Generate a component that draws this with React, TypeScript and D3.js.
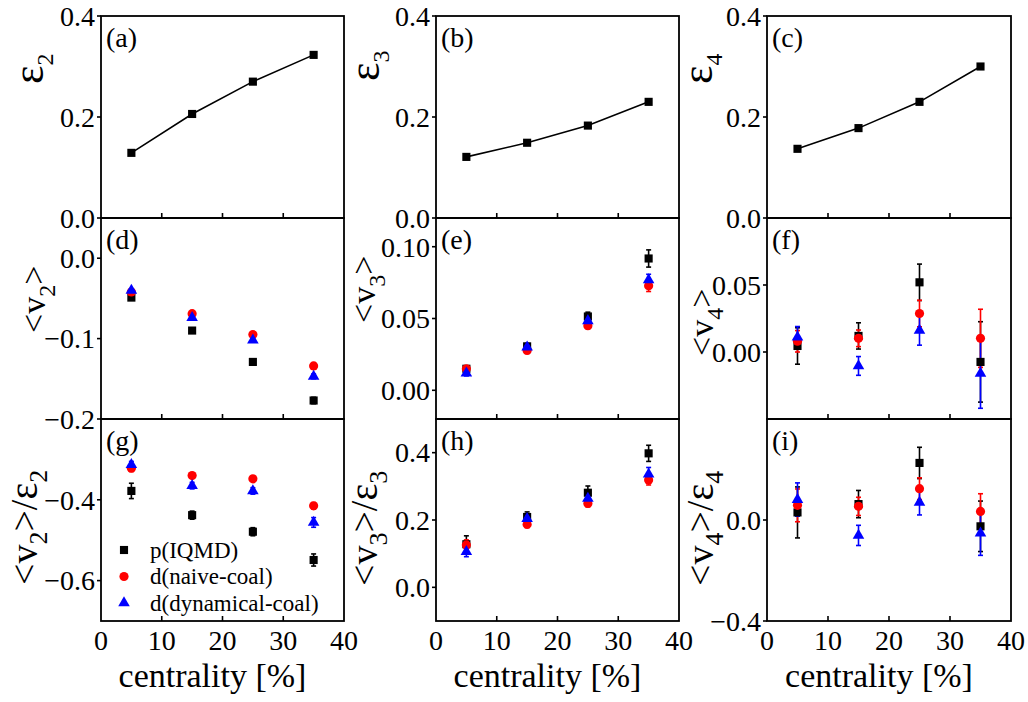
import React from 'react';
import * as d3 from 'd3';

const FONT = '"Liberation Serif", "Times New Roman", serif';

// data
const centrality = [5, 15, 25, 35];
const xTicks = [0, 10, 20, 30, 40];

const eps2 = [0.129, 0.206, 0.27, 0.323];
const eps3 = [0.121, 0.149, 0.183, 0.23];
const eps4 = [0.137, 0.178, 0.23, 0.3];

const seriesNames = ['p(IQMD)', 'd(naive-coal)', 'd(dynamical-coal)'];
const seriesColors = ['#000000', '#ff0000', '#0000ff'];
const seriesShapes = ['square', 'circle', 'triangle'];

// <v2>
const v2P = [-0.049, -0.09, -0.129, -0.177];
const v2PErr = [0.003, 0.003, 0.003, 0.004];
const v2Naive = [-0.042, -0.069, -0.095, -0.134];
const v2NaiveErr = [0.002, 0.002, 0.002, 0.003];
const v2Dyn = [-0.04, -0.074, -0.102, -0.147];
const v2DynErr = [0.002, 0.002, 0.002, 0.003];

// <v3>
const v3P = [0.015, 0.0306, 0.0514, 0.0918];
const v3PErr = [0.002, 0.002, 0.003, 0.006];
const v3Naive = [0.015, 0.0277, 0.045, 0.0728];
const v3NaiveErr = [0.002, 0.002, 0.002, 0.004];
const v3Dyn = [0.012, 0.03, 0.0484, 0.0768];
const v3DynErr = [0.002, 0.002, 0.003, 0.004];

// <v4>
const v4P = [0.0045, 0.012, 0.052, -0.0074];
const v4PErr = [0.0136, 0.0098, 0.0136, 0.03];
const v4Naive = [0.008, 0.0102, 0.0287, 0.0102];
const v4NaiveErr = [0.008, 0.0062, 0.0099, 0.0217];
const v4Dyn = [0.011, -0.0104, 0.0161, -0.016];
const v4DynErr = [0.008, 0.007, 0.011, 0.026];

// <v2>/eps2
const r2P = [-0.378, -0.438, -0.479, -0.549];
const r2PErr = [0.019, 0.01, 0.01, 0.015];
const r2Naive = [-0.322, -0.34, -0.348, -0.415];
const r2NaiveErr = [0.008, 0.006, 0.006, 0.008];
const r2Dyn = [-0.313, -0.365, -0.378, -0.456];
const r2DynErr = [0.008, 0.008, 0.008, 0.012];

// <v3>/eps3
const r3P = [0.128, 0.209, 0.281, 0.398];
const r3PErr = [0.025, 0.015, 0.02, 0.024];
const r3Naive = [0.126, 0.187, 0.249, 0.319];
const r3NaiveErr = [0.015, 0.01, 0.01, 0.015];
const r3Dyn = [0.106, 0.204, 0.264, 0.336];
const r3DynErr = [0.015, 0.012, 0.015, 0.02];

// <v4>/eps4
const r4P = [0.03, 0.063, 0.226, -0.025];
const r4PErr = [0.101, 0.054, 0.062, 0.1];
const r4Naive = [0.058, 0.054, 0.124, 0.034];
const r4NaiveErr = [0.065, 0.036, 0.043, 0.07];
const r4Dyn = [0.081, -0.061, 0.07, -0.052];
const r4DynErr = [0.066, 0.04, 0.05, 0.088];

const cols = [[101, 344], [436, 679], [767, 1011]];
const rows = [[16, 218], [218, 419], [419, 621]];

type Part = { t: string; sub?: boolean; size: number };

const epsLabel = (n: string): Part[] => [{ t: 'ε', size: 44 }, { t: n, sub: true, size: 24 }];
const vLabel = (n: string): Part[] => [
  { t: '<v', size: 34 }, { t: n, sub: true, size: 24 }, { t: '>', size: 34 },
];
const ratioLabel = (n: string): Part[] => [
  { t: '<v', size: 38 }, { t: n, sub: true, size: 26 }, { t: '>/', size: 38 },
  { t: 'ε', size: 40 }, { t: n, sub: true, size: 26 },
];

// lab = [baseline offset from panel left, y where the rotated text starts]
const panels = [
  { tag: '(a)', col: 0, row: 0, dom: [0, 0.4], ticks: [0, 0.2, 0.4], fmt: '.1f', line: eps2, label: epsLabel('2'), lab: [-58, 84] },
  { tag: '(b)', col: 1, row: 0, dom: [0, 0.4], ticks: [0, 0.2, 0.4], fmt: '.1f', line: eps3, label: epsLabel('3'), lab: [-57, 81] },
  { tag: '(c)', col: 2, row: 0, dom: [0, 0.4], ticks: [0, 0.2, 0.4], fmt: '.1f', line: eps4, label: epsLabel('4'), lab: [-55, 84] },
  { tag: '(d)', col: 0, row: 1, dom: [-0.2, 0.05], ticks: [-0.2, -0.1, 0], fmt: '.1f',
    series: [[v2P, v2PErr], [v2Naive, v2NaiveErr], [v2Dyn, v2DynErr]], label: vLabel('2'), lab: [-56, 333] },
  { tag: '(e)', col: 1, row: 1, dom: [-0.02, 0.12], ticks: [0, 0.05, 0.1], fmt: '.2f',
    series: [[v3P, v3PErr], [v3Naive, v3NaiveErr], [v3Dyn, v3DynErr]], label: vLabel('3'), lab: [-61, 323] },
  { tag: '(f)', col: 2, row: 1, dom: [-0.05, 0.1], ticks: [0, 0.05], fmt: '.2f',
    series: [[v4P, v4PErr], [v4Naive, v4NaiveErr], [v4Dyn, v4DynErr]], label: vLabel('4'), lab: [-54, 356] },
  { tag: '(g)', col: 0, row: 2, dom: [-0.7, -0.2], ticks: [-0.6, -0.4], fmt: '.1f', legend: true,
    series: [[r2P, r2PErr], [r2Naive, r2NaiveErr], [r2Dyn, r2DynErr]], label: ratioLabel('2'), lab: [-64, 585] },
  { tag: '(h)', col: 1, row: 2, dom: [-0.1, 0.5], ticks: [0, 0.2, 0.4], fmt: '.1f',
    series: [[r3P, r3PErr], [r3Naive, r3NaiveErr], [r3Dyn, r3DynErr]], label: ratioLabel('3'), lab: [-59, 586] },
  { tag: '(i)', col: 2, row: 2, dom: [-0.4, 0.4], ticks: [-0.4, 0], fmt: '.1f',
    series: [[r4P, r4PErr], [r4Naive, r4NaiveErr], [r4Dyn, r4DynErr]], label: ratioLabel('4'), lab: [-54, 586] },
];

const symbolPath = (shape: string) => {
  if (shape === 'square') return d3.symbol(d3.symbolSquare, 66)();
  if (shape === 'circle') return d3.symbol(d3.symbolCircle, 66)();
  return d3.symbol(d3.symbolTriangle, 58)();
};

const SUB_DROP = 10;

const RotLabel = ({ parts, x, y }: { parts: Part[]; x: number; y: number }) => {
  let shift = 0;
  return (
    <text transform={`translate(${x},${y}) rotate(-90)`} textAnchor="start" fontFamily={FONT} fontSize={34}>
      {parts.map((p, i) => {
        const target = p.sub ? SUB_DROP : 0;
        const dy = target - shift;
        shift = target;
        return (
          <tspan key={i} dy={dy} fontSize={p.size}>{p.t}</tspan>
        );
      })}
    </text>
  );
};

const Panel = ({ p }: { p: any }) => {
  const [x0, x1] = cols[p.col];
  const [y0, y1] = rows[p.row];
  const x = d3.scaleLinear().domain([0, 40]).range([x0, x1]);
  const y = d3.scaleLinear().domain(p.dom).range([y1, y0]);
  const fmt = d3.format(p.fmt);
  const line = d3.line<number>().x((_, i) => x(centrality[i])).y((d) => y(d));
  const showTickLabel = (t: number) => !(p.row === 2 && p.col === 0 && t === -0.2);
  return (
    <g>
      {p.line && (
        <g>
          <path d={line(p.line) ?? ''} fill="none" stroke="#000" strokeWidth={1.6} />
          {p.line.map((v: number, i: number) => (
            <path key={i} d={symbolPath('square') ?? ''} transform={`translate(${x(centrality[i])},${y(v)})`} fill="#000" />
          ))}
        </g>
      )}
      {p.series && (
        <g>
          {p.series.map(([vals, errs]: number[][], si: number) => (
            <g key={si} stroke={seriesColors[si]} strokeWidth={1.6}>
              {vals.map((v, i) => {
                const cx = x(centrality[i]);
                const ya = y(v + errs[i]);
                const yb = y(v - errs[i]);
                return (
                  <g key={i}>
                    <line x1={cx} x2={cx} y1={ya} y2={yb} />
                    <line x1={cx - 2.5} x2={cx + 2.5} y1={ya} y2={ya} />
                    <line x1={cx - 2.5} x2={cx + 2.5} y1={yb} y2={yb} />
                  </g>
                );
              })}
            </g>
          ))}
          {p.series.map(([vals]: number[][], si: number) => (
            <g key={si} fill={seriesColors[si]}>
              {vals.map((v, i) => (
                <path key={i} d={symbolPath(seriesShapes[si]) ?? ''} transform={`translate(${x(centrality[i])},${y(v)})`} />
              ))}
            </g>
          ))}
        </g>
      )}
      {p.legend && seriesNames.map((n, i) => (
        <g key={n} transform={`translate(${x0 + 23},${550 + i * 26.5})`}>
          <path d={symbolPath(seriesShapes[i]) ?? ''} fill={seriesColors[i]} />
          <text x={26} dy="0.33em" fontFamily={FONT} fontSize={23}>{n}</text>
        </g>
      ))}
      <rect x={x0} y={y0} width={x1 - x0} height={y1 - y0} fill="none" stroke="#000" strokeWidth={1.8} />
      {xTicks.slice(1, -1).map((t) => (
        <line key={t} x1={x(t)} x2={x(t)} y1={y1} y2={y1 - 5} stroke="#000" strokeWidth={1.6} />
      ))}
      {p.row === 2 && xTicks.map((t) => (
        <text key={t} x={x(t)} y={y1 + 29} textAnchor="middle" fontFamily={FONT} fontSize={28}>{t}</text>
      ))}
      {p.row === 2 && (
        <text x={(x0 + x1) / 2 - 10} y={687} textAnchor="middle" fontFamily={FONT} fontSize={34}>centrality [%]</text>
      )}
      {p.ticks.map((t: number) => (
        <g key={t}>
          <line x1={x0} x2={x0 - 4} y1={y(t)} y2={y(t)} stroke="#000" strokeWidth={1.6} />
          {showTickLabel(t) && (
            <text x={x0 - 6} y={y(t)} dy="0.35em" textAnchor="end" fontFamily={FONT} fontSize={28}>{fmt(t)}</text>
          )}
        </g>
      ))}
      <text x={x0 + 5} y={y0 + 31} fontFamily={FONT} fontSize={28}>{p.tag}</text>
      <RotLabel parts={p.label} x={x0 + p.lab[0]} y={p.lab[1]} />
    </g>
  );
};

export default function App() {
  return (
    <svg width={1028} height={702} style={{ position: 'absolute', left: 0, top: 0, background: '#fff' }}>
      {panels.map((p) => <Panel key={p.tag} p={p} />)}
    </svg>
  );
}
